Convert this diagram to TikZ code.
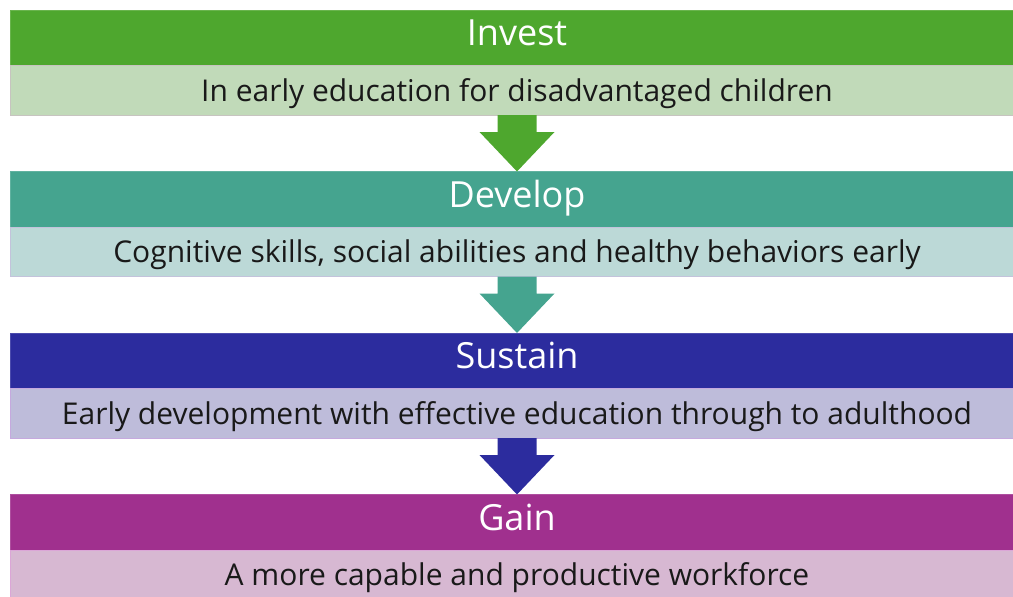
\documentclass[tikz,border=0pt]{standalone}
\usepackage{fontspec}
\setmainfont{Open Sans}
\usetikzlibrary{positioning,calc}
\definecolor{gA}{HTML}{4EA72E}
\definecolor{gB}{HTML}{C1DAB9}
\definecolor{tA}{HTML}{45A48F}
\definecolor{tB}{HTML}{BCD9D7}
\definecolor{bA}{HTML}{2C2C9E}
\definecolor{bB}{HTML}{BEBCDA}
\definecolor{pA}{HTML}{A0308E}
\definecolor{pB}{HTML}{D7B8D2}
\tikzset{
  head/.style={fill=#1, draw=#1!85!white, line width=0.8pt, minimum width=1014pt, minimum height=55.5pt,
    inner sep=0pt, text=white, font=\fontsize{36}{40}\selectfont, outer sep=0pt,
    text height=26pt, text depth=10pt},
  sub/.style={fill=#1, draw=#1!90!magenta, line width=0.6pt, minimum width=1014pt, minimum height=49.5pt,
    inner sep=0pt, text=black!90, font=\fontsize{30}{34}\selectfont, outer sep=0pt,
    text height=21.5pt, text depth=0pt},
}
\newcommand{\downarrowshape}[3]{%
  \fill[#1] ($(#2.south)+(-19.5,0)$) -- ($(#2.south)+(19.5,0)$) -- ($(#2.south)+(19.5,17)$)
    -- ($(#2.south)+(37.5,17)$) -- (#3.north) -- ($(#2.south)+(-37.5,17)$)
    -- ($(#2.south)+(-19.5,17)$) -- cycle;}
\begin{document}
\begin{tikzpicture}[x=1pt,y=-1pt]
\useasboundingbox (0,0) rectangle (1013,597);
\node[head=gA, anchor=north west] (h1) at (10,10) {Invest};
\node[sub=gB, below=0pt of h1] (s1) {In early education for disadvantaged children};
\node[head=tA, below=56.5pt of s1] (h2) {Develop};
\node[sub=tB, below=0pt of h2] (s2) {Cognitive skills, social abilities and healthy behaviors early};
\node[head=bA, below=56.5pt of s2] (h3) {Sustain};
\node[sub=bB, below=0pt of h3] (s3) {Early development with effective education through to adulthood};
\node[head=pA, below=56.5pt of s3] (h4) {Gain};
\node[sub=pB, below=0pt of h4] (s4) {A more capable and productive workforce};
\downarrowshape{gA}{s1}{h2}
\downarrowshape{tA}{s2}{h3}
\downarrowshape{bA}{s3}{h4}
\end{tikzpicture}
\end{document}
